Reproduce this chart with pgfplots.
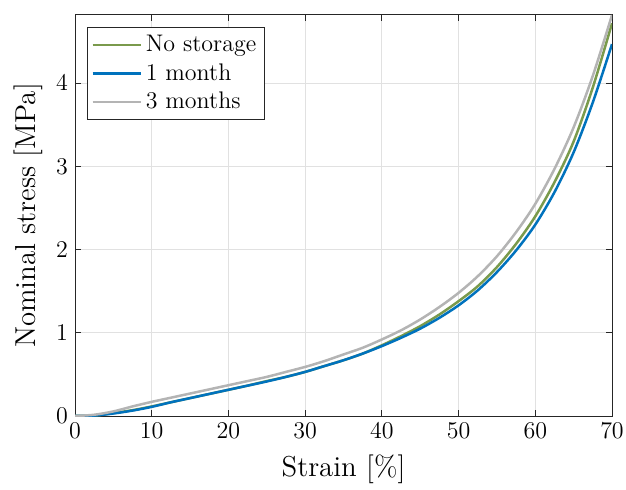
\documentclass[border=0pt]{standalone}
\usepackage{pgfplots}
\pgfplotsset{compat=1.18}
\definecolor{cGreen}{RGB}{122,154,76}
\definecolor{cBlue}{RGB}{0,114,189}
\definecolor{cGray}{RGB}{180,180,180}
\definecolor{cAxis}{RGB}{38,38,38}
\definecolor{cGrid}{RGB}{225,225,225}
\begin{document}
\begin{tikzpicture}
\begin{axis}[
  scale only axis,
  width=268.5pt, height=200.5pt,
  xmin=0, xmax=70, ymin=0, ymax=4.82,
  xtick={0,10,...,70}, ytick={0,1,2,3,4},
  tick align=inside, major tick length=3pt,
  axis line style={cAxis, line width=0.5pt},
  every tick/.style={cAxis, line width=0.5pt},
  grid=major, grid style={cGrid, line width=0.5pt},
  ticklabel style={font=\large},
  label style={font=\Large},
  xlabel={Strain [\%]},
  xlabel style={yshift=-1.5pt},
  ylabel={Nominal stress [MPa]},
  every axis plot/.append style={line width=1.25pt, smooth, no marks},
  legend style={at={(0.022,0.971)}, anchor=north west, draw=cAxis,
    line width=0.5pt, font=\large, inner sep=2pt, row sep=0.5pt,
    cells={anchor=west}},
  legend image code/.code={\draw[#1] (0pt,0pt) -- (24pt,0pt);},
  legend cell align=left,
]
% no storage
\addplot[cGreen] coordinates {
 (0,0) (2.5,0.005) (5,0.035) (7.5,0.07) (10,0.115) (12.5,0.165) (15,0.215)
 (17.5,0.265) (20,0.315) (22.5,0.365) (25,0.42) (27.5,0.47) (30,0.53)
 (32.5,0.60) (35,0.67) (37.5,0.75) (40,0.85) (42.5,0.96) (45,1.08)
 (47.5,1.22) (50,1.38) (52.5,1.56) (55,1.79) (57.5,2.07) (60,2.40)
 (62.5,2.81) (65,3.30) (67.5,3.95) (70,4.72)};
\addlegendentry{No storage}
% 1 month
\addplot[cBlue] coordinates {
 (0,0) (2.5,0.005) (5,0.03) (7.5,0.065) (10,0.11) (12.5,0.165) (15,0.215)
 (17.5,0.265) (20,0.315) (22.5,0.365) (25,0.415) (27.5,0.47) (30,0.53)
 (32.5,0.60) (35,0.67) (37.5,0.75) (40,0.84) (42.5,0.94) (45,1.05)
 (47.5,1.18) (50,1.33) (52.5,1.51) (55,1.73) (57.5,1.99) (60,2.30)
 (62.5,2.69) (65,3.17) (67.5,3.77) (70,4.47)};
\addlegendentry{1 month}
% 3 months
\addplot[cGray] coordinates {
 (0,0) (2.5,0.015) (5,0.055) (7.5,0.115) (10,0.17) (12.5,0.22) (15,0.27)
 (17.5,0.32) (20,0.37) (22.5,0.42) (25,0.47) (27.5,0.53) (30,0.59)
 (32.5,0.66) (35,0.74) (37.5,0.82) (40,0.92) (42.5,1.03) (45,1.16)
 (47.5,1.31) (50,1.48) (52.5,1.68) (55,1.92) (57.5,2.21) (60,2.55)
 (62.5,2.97) (65,3.47) (67.5,4.09) (70,4.82)};
\addlegendentry{3 months}
\end{axis}
\pgfresetboundingbox
\path ([xshift=-37.5pt,yshift=-36.5pt]current axis.south west)
  rectangle ([xshift=7pt,yshift=7.5pt]current axis.north east);
\end{tikzpicture}
\end{document}
